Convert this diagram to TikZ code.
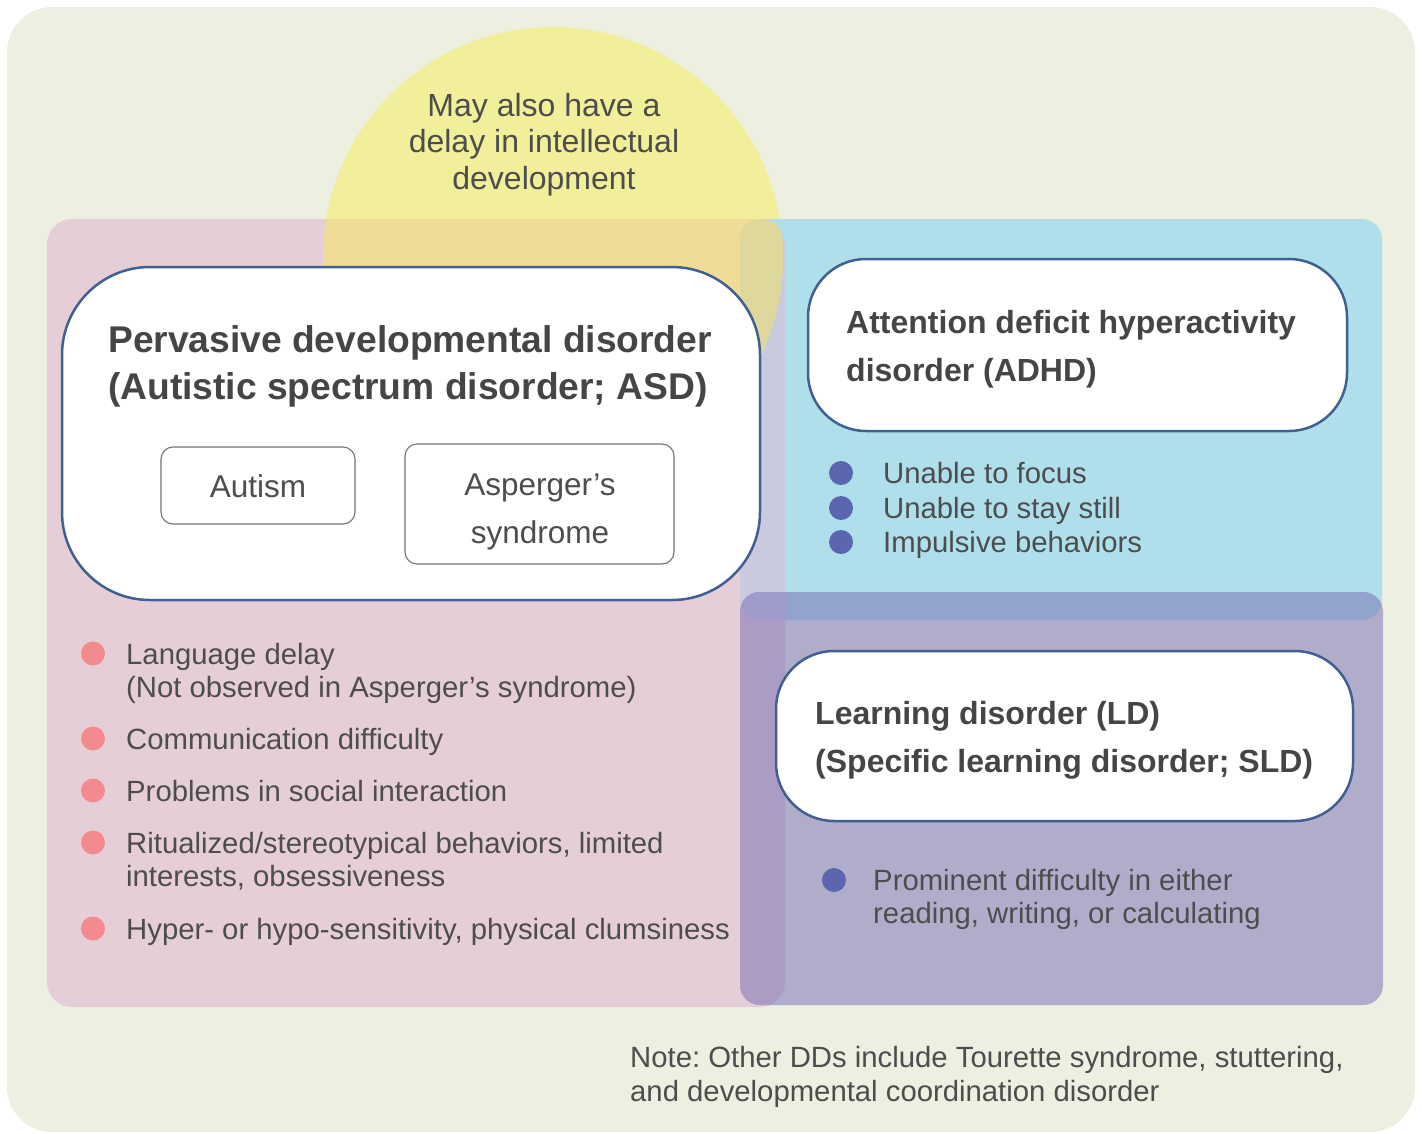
\documentclass[tikz,border=0pt]{standalone}
\usepackage{fontspec}
\setmainfont{Liberation Sans}
\frenchspacing
\definecolor{bgc}{HTML}{EDF0E1}
\definecolor{pinkc}{HTML}{E5CED8}
\definecolor{bluec}{HTML}{AFDFEA}
\definecolor{lavc}{HTML}{CACADF}
\definecolor{bandc}{HTML}{92A4CE}
\definecolor{triplec}{HTML}{9F9BCA}
\definecolor{ppc}{HTML}{AC9CC5}
\definecolor{purpc}{HTML}{B0ADCB}
\definecolor{yelc}{HTML}{F2EF9B}
\definecolor{yelpink}{HTML}{EFDD97}
\definecolor{yellav}{HTML}{DED89C}
\definecolor{dotpink}{HTML}{F38B8E}
\definecolor{dotblue}{HTML}{5C65B0}
\definecolor{edgeblue}{HTML}{3F6090}
\definecolor{txtc}{HTML}{4D4D4D}
\definecolor{titc}{HTML}{454545}
\begin{document}
\begin{tikzpicture}[x=1pt,y=-1pt,
  txt/.style={inner sep=0pt, anchor=base west, text=txtc, font=\frenchspacing\fontsize{29.3}{34}\selectfont},
  ctxt/.style={inner sep=0pt, anchor=base, text=txtc, font=\fontsize{31.5}{36}\selectfont},
  ytxt/.style={inner sep=0pt, anchor=base, text=txtc, font=\fontsize{32}{36}\selectfont},
  ttl/.style={inner sep=0pt, anchor=base west, text=titc, font=\bfseries\fontsize{32}{38}\selectfont},
  bigttl/.style={inner sep=0pt, anchor=base west, text=titc, font=\bfseries\fontsize{37.2}{44}\selectfont},
  bigbox/.style={draw=edgeblue, line width=2.5pt, fill=white},
  smallbox/.style={draw=black!55, line width=1.1pt, fill=white, rounded corners=12pt},
  pdot/.style={fill=dotpink, draw=none},
  bdot/.style={fill=dotblue, draw=none}]
\useasboundingbox (0,0) rectangle (1422,1133);
% background
\fill[bgc, rounded corners=45pt] (7,7) rectangle (1415,1132);
% yellow circle
\fill[yelc] (553,257) circle[radius=230pt];
% category panels
\fill[pinkc, rounded corners=25pt] (47,219) rectangle (785,1007);
\fill[bluec, rounded corners=20pt] (740,219) rectangle (1382,620);
\fill[purpc, rounded corners=20pt] (740,592) rectangle (1383,1005);
% overlaps
\begin{scope}
  \clip[rounded corners=25pt] (47,219) rectangle (785,1007);
  \fill[lavc, rounded corners=20pt] (740,219) rectangle (1382,620);
  \fill[ppc, rounded corners=20pt] (740,592) rectangle (1383,1005);
\end{scope}
\begin{scope}
  \clip[rounded corners=20pt] (740,219) rectangle (1382,620);
  \fill[bandc, rounded corners=20pt] (740,592) rectangle (1383,1005);
\end{scope}
\begin{scope}
  \clip[rounded corners=25pt] (47,219) rectangle (785,1007);
  \clip[rounded corners=20pt] (740,219) rectangle (1382,620);
  \fill[triplec, rounded corners=20pt] (740,592) rectangle (1383,1005);
\end{scope}
% yellow over panels
\begin{scope}
  \clip (553,257) circle[radius=230pt];
  \fill[yelpink, rounded corners=25pt] (47,219) rectangle (785,1007);
  \begin{scope}
    \clip[rounded corners=25pt] (47,219) rectangle (785,1007);
    \fill[yellav, rounded corners=20pt] (740,219) rectangle (1382,620);
  \end{scope}
\end{scope}
% yellow text
\node[ytxt] (y1) at (544,116) {May also have a};
\node[ytxt] (y2) at (544,152) {delay in intellectual};
\node[ytxt] (y3) at (544,189) {development};
% big boxes
\draw[bigbox, rounded corners=88pt] (62,267) rectangle (760,600);
\draw[bigbox, rounded corners=58pt] (808,259) rectangle (1347,431);
\draw[bigbox, rounded corners=58pt] (776,651) rectangle (1353,821);
% ASD title
\node[bigttl] (asd1) at (108,352) {Pervasive developmental disorder};
\node[bigttl] (asd2) at (108,399) {(Autistic spectrum disorder; ASD)};
% sub boxes
\draw[smallbox] (161,447) rectangle (355,524);
\node[ctxt] (aut) at (258,497) {Autism};
\draw[smallbox] (405,444) rectangle (674,564);
\node[ctxt] (asp1) at (540,495) {Asperger’s};
\node[ctxt] (asp2) at (540,543) {syndrome};
% ADHD
\node[ttl] (adhd1) at (846,333.5) {Attention deficit hyperactivity};
\node[ttl] (adhd2) at (846,381.5) {disorder (ADHD)};
\fill[bdot] (841,473) circle[radius=12pt];
\fill[bdot] (841,508) circle[radius=12pt];
\fill[bdot] (841,542) circle[radius=12pt];
\node[txt] (ad1) at (883,483) {Unable to focus};
\node[txt] (ad2) at (883,518) {Unable to stay still};
\node[txt] (ad3) at (883,552) {Impulsive behaviors};
% LD
\node[ttl] (ld1) at (815,724.5) {Learning disorder (LD)};
\node[ttl] (ld2) at (815,772.5) {(Specific learning disorder; SLD)};
\fill[bdot] (834,880) circle[radius=12pt];
\node[txt] (ldb1) at (873,890) {Prominent difficulty in either};
\node[txt] (ldb2) at (873,923) {reading, writing, or calculating};
% ASD bullets
\fill[pdot] (93,653.5) circle[radius=12pt];
\fill[pdot] (93,738.5) circle[radius=12pt];
\fill[pdot] (93,790.5) circle[radius=12pt];
\fill[pdot] (93,842.5) circle[radius=12pt];
\fill[pdot] (93,928.5) circle[radius=12pt];
\node[txt] (b1a) at (126,664) {Language delay};
\node[txt] (b1b) at (126,697) {(Not observed in Asperger’s syndrome)};
\node[txt] (b2) at (126,749) {Communication difficulty};
\node[txt] (b3) at (126,801) {Problems in social interaction};
\node[txt] (b4a) at (126,853) {Ritualized/stereotypical behaviors, limited};
\node[txt] (b4b) at (126,886) {interests, obsessiveness};
\node[txt] (b5) at (126,939) {Hyper- or hypo-sensitivity, physical clumsiness};
% note
\node[txt] (n1) at (630,1067) {Note: Other DDs include Tourette syndrome, stuttering,};
\node[txt] (n2) at (630,1101) {and developmental coordination disorder};
\end{tikzpicture}
\end{document}
